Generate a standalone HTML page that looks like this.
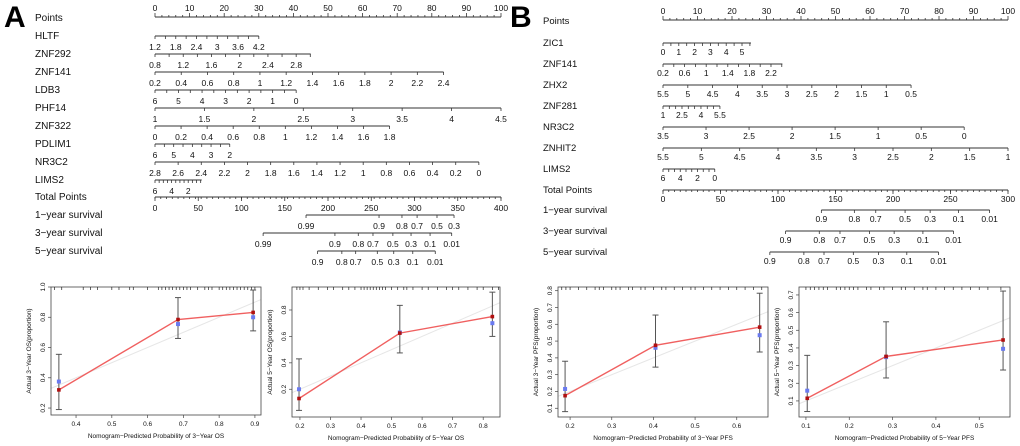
<!DOCTYPE html>
<html><head><meta charset="utf-8"><style>
html,body{margin:0;padding:0;background:#fff;}
svg{display:block;font-family:"Liberation Sans",Arial,sans-serif;}
</style></head><body>
<svg id="fig" width="1020" height="446" viewBox="0 0 1020 446" xmlns="http://www.w3.org/2000/svg">
<text x="4" y="27" font-size="30" font-weight="bold">A</text>
<text x="510" y="27" font-size="30" font-weight="bold">B</text>
</svg>
<script>
const aNames = ["HLTF","ZNF292","ZNF141","LDB3","PHF14","ZNF322","PDLIM1","NR3C2","LIMS2"];
const aLabels = [
 ["1.2","1.8","2.4","3","3.6","4.2"],
 ["0.8","1.2","1.6","2","2.4","2.8"],
 ["0.2","0.4","0.6","0.8","1","1.2","1.4","1.6","1.8","2","2.2","2.4"],
 ["6","5","4","3","2","1","0"],
 ["1","1.5","2","2.5","3","3.5","4","4.5"],
 ["0","0.2","0.4","0.6","0.8","1","1.2","1.4","1.6","1.8"],
 ["6","5","4","3","2"],
 ["2.8","2.6","2.4","2.2","2","1.8","1.6","1.4","1.2","1","0.8","0.6","0.4","0.2","0"],
 ["6","4","2"]];
const aLastPts = [30,40.8,83.4,40.8,100,67.8,21.6,93.6,9.6];
const aEndPts  = [30,45,83.4,40.8,100,67.8,21.6,93.6,13.5];
const aMinor   = [2,2,1,2,1,1,2,1,4];
const aTotalTicks = [0,50,100,150,200,250,300,350,400];
const aSurvNames = ["1\u2212year survival","3\u2212year survival","5\u2212year survival"];
const aSurvLabels = [["0.99","0.9","0.8","0.7","0.5","0.3"],
 ["0.99","0.9","0.8","0.7","0.5","0.3","0.1","0.01"],
 ["0.9","0.8","0.7","0.5","0.3","0.1","0.01"]];
const aSurvPts = [[174.6,259,285.5,303,326,345.7],
 [125,208,235,252,275,296,318,343],
 [188,216,232,257,276,298,324]];

const bNames = ["ZIC1","ZNF141","ZHX2","ZNF281","NR3C2","ZNHIT2","LIMS2"];
const bLabels = [
 ["0","1","2","3","4","5"],
 ["0.2","0.6","1","1.4","1.8","2.2"],
 ["5.5","5","4.5","4","3.5","3","2.5","2","1.5","1","0.5"],
 ["1","2.5","4","5.5"],
 ["3.5","3","2.5","2","1.5","1","0.5","0"],
 ["5.5","5","4.5","4","3.5","3","2.5","2","1.5","1"],
 ["6","4","2","0"]];
const bLastPts = [22.9,31.3,71.9,16.5,87.3,100,15];
const bEndPts  = [25.5,34.6,71.9,16.5,87.3,100,15];
const bMinor   = [2,2,1,3,1,1,3];
const bTotalTicks = [0,50,100,150,200,250,300];
const bSurvNames = ["1\u2212year survival","3\u2212year survival","5\u2212year survival"];
const bSurvLabels = [["0.9","0.8","0.7","0.5","0.3","0.1","0.01"],
 ["0.9","0.8","0.7","0.5","0.3","0.1","0.01"],
 ["0.9","0.8","0.7","0.5","0.3","0.1","0.01"]];
const bSurvPts = [[137.7,166.4,185,210.5,232.3,257,284],
 [106.6,135.9,153.9,179.5,201,226,252.6],
 [92.9,122.5,140,165.5,187.3,212,239.6]];
const pointTicks = [0,10,20,30,40,50,60,70,80,90,100];

const cal1Pred = [0.352,0.685,0.895];
const cal1Obs  = [0.32,0.785,0.832];
const cal1Km   = [0.375,0.755,0.80];
const cal1Lo   = [0.19,0.66,0.71];
const cal1Hi   = [0.555,0.93,0.98];
const cal1XTicks = [0.4,0.5,0.6,0.7,0.8,0.9];
const cal1YTicks = [0.2,0.4,0.6,0.8,1.0];
const rug1 = [0.34,0.36,0.42,0.44,0.46,0.5,0.52,0.55,0.56,0.6,0.63,0.64,0.65,0.66,0.67,0.68,0.69,0.7,0.71,0.72,0.74,0.76,0.77,0.78,0.8,0.81,0.82,0.83,0.84,0.85,0.86,0.87,0.88,0.89,0.9];

const cal2Pred = [0.197,0.527,0.83];
const cal2Obs  = [0.13,0.625,0.75];
const cal2Km   = [0.2,0.63,0.70];
const cal2Lo   = [0.04,0.475,0.6];
const cal2Hi   = [0.43,0.835,0.935];
const cal2XTicks = [0.2,0.3,0.4,0.5,0.6,0.7,0.8];
const cal2YTicks = [0.2,0.4,0.6,0.8];
const rug2 = [0.19,0.2,0.21,0.23,0.26,0.29,0.31,0.34,0.36,0.38,0.4,0.41,0.42,0.43,0.44,0.45,0.46,0.47,0.48,0.5,0.52,0.54,0.55,0.57,0.6,0.62,0.65,0.68,0.7,0.72,0.75,0.78,0.8,0.83,0.85];

const cal3Pred = [0.188,0.405,0.655];
const cal3Obs  = [0.175,0.475,0.583];
const cal3Km   = [0.215,0.46,0.535];
const cal3Lo   = [0.08,0.345,0.435];
const cal3Hi   = [0.38,0.655,0.785];
const cal3XTicks = [0.2,0.3,0.4,0.5,0.6];
const cal3YTicks = [0.1,0.2,0.3,0.4,0.5,0.6,0.7,0.8];
const rug3 = [0.18,0.19,0.2,0.22,0.24,0.26,0.27,0.28,0.3,0.31,0.32,0.34,0.35,0.37,0.38,0.4,0.42,0.43,0.45,0.47,0.49,0.5,0.52,0.54,0.56,0.58,0.6,0.62,0.64,0.66];

const cal4Pred = [0.103,0.285,0.555];
const cal4Obs  = [0.115,0.352,0.445];
const cal4Km   = [0.158,0.348,0.395];
const cal4Lo   = [0.04,0.23,0.275];
const cal4Hi   = [0.358,0.548,0.722];
const cal4XTicks = [0.1,0.2,0.3,0.4,0.5];
const cal4YTicks = [0.1,0.2,0.3,0.4,0.5,0.6,0.7];
const rug4 = [0.1,0.11,0.12,0.13,0.14,0.15,0.17,0.18,0.19,0.2,0.21,0.22,0.24,0.25,0.27,0.28,0.3,0.32,0.33,0.35,0.37,0.38,0.4,0.42,0.44,0.46,0.48,0.5,0.52,0.55];

const svg = document.getElementById('fig');
const NS = "http://www.w3.org/2000/svg";
function mk(tag, attrs, parent){
  const e = document.createElementNS(NS, tag);
  for (const k in attrs) e.setAttribute(k, attrs[k]);
  (parent||svg).appendChild(e);
  return e;
}
function line(x1,y1,x2,y2,stroke,w,parent){
  return mk('line',{x1:x1,y1:y1,x2:x2,y2:y2,stroke:stroke,'stroke-width':w},parent);
}
function txt(x,y,s,size,anchor,parent){
  const t = mk('text',{x:x,y:y,'font-size':size,'text-anchor':anchor||'start',fill:'#111'},parent);
  t.textContent = s;
  return t;
}

function nomogram(cfg){
  const g = mk('g',{});
  
  
  const px = p => cfg.x0 + p*(cfg.x1-cfg.x0)/100;
  const tx = t => cfg.x0 + t*(cfg.x1-cfg.x0)/cfg.totalMax;
  const fs = cfg.fs, ls = cfg.ls;
  const pa = mk('g',{},g);
  
  
  txt(cfg.nameX, cfg.pointsY+4, "Points", fs, 'start', pa);
  line(px(0), cfg.pointsY, px(100), cfg.pointsY, '#333', 1, pa);
  for (let p=0; p<=100; p+=2){
    const major = p%10===0;
    line(px(p), cfg.pointsY, px(p), cfg.pointsY-(major?4:2), '#333', 0.8, pa);
  }
  pointTicks.forEach(p => txt(px(p), cfg.pointsY-6, String(p), ls, 'middle', pa));
  cfg.names.forEach((nm,i) => {
    const y = cfg.rowY[i];
    const vg = mk('g',{},g);
    
    
    txt(cfg.nameX, y+3, nm, fs, 'start', vg);
    line(px(0), y, px(cfg.endPts[i]), y, '#333', 1, vg);
    const labs = cfg.labels[i];
    const n = labs.length;
    const step = cfg.lastPts[i]/(n-1);
    const m = cfg.minor[i];
    const total = Math.floor(cfg.endPts[i]/(step/m)+1e-6);
    for (let k=0;k<=total;k++){
      const p = k*step/m;
      line(px(p), y, px(p), y+3, '#333', 0.8, vg);
    }
    labs.forEach((s,k) => txt(px(k*step), y+cfg.labOff, s, ls, 'middle', vg));
  });
  const tg = mk('g',{},g);
  
  
  txt(cfg.nameX, cfg.totalY+3, "Total Points", fs, 'start', tg);
  line(tx(0), cfg.totalY, tx(cfg.totalMax), cfg.totalY, '#333', 1, tg);
  for (let t=0; t<=cfg.totalMax+1e-6; t+=cfg.totalMax/60){
    line(tx(t), cfg.totalY, tx(t), cfg.totalY+2, '#333', 0.8, tg);
  }
  cfg.totalTicks.forEach(t => {
    line(tx(t), cfg.totalY, tx(t), cfg.totalY+4, '#333', 0.8, tg);
    txt(tx(t), cfg.totalY+cfg.labOff, String(t), ls, 'middle', tg);
  });
  cfg.survNames.forEach((nm,i) => {
    const y = cfg.survY[i];
    const sg = mk('g',{},g);
    
    
    txt(cfg.nameX, y+3, nm, fs, 'start', sg);
    const pts = cfg.survPts[i];
    line(tx(pts[0]), y, tx(pts[pts.length-1]), y, '#333', 1, sg);
    pts.forEach((t,k) => {
      line(tx(t), y, tx(t), y+3, '#333', 0.8, sg);
      txt(tx(t), y+cfg.labOff, cfg.survLabels[i][k], ls, 'middle', sg);
    });
  });
}

nomogram({id:'nomogram-a', x0:155, x1:501, totalMax:400, nameX:35, pointsY:17, fs:10, ls:8.5, labOff:14,
  names:aNames, labels:aLabels, lastPts:aLastPts, endPts:aEndPts, minor:aMinor,
  rowY:[36,54,72,90,108,126,144,162,180], totalY:197, totalTicks:aTotalTicks,
  survNames:aSurvNames, survLabels:aSurvLabels, survPts:aSurvPts, survY:[215,233,251]});
nomogram({id:'nomogram-b', x0:663, x1:1008, totalMax:300, nameX:543, pointsY:20, fs:9.5, ls:8.5, labOff:12,
  names:bNames, labels:bLabels, lastPts:bLastPts, endPts:bEndPts, minor:bMinor,
  rowY:[43,64,85,106,127,148,169], totalY:190, totalTicks:bTotalTicks,
  survNames:bSurvNames, survLabels:bSurvLabels, survPts:bSurvPts, survY:[210,231,252]});

function calib(c){
  const g = mk('g',{});
  
  
  const sx = v => c.L + (v-c.xd[0])/(c.xd[1]-c.xd[0])*(c.R-c.L);
  const sy = v => c.B - (v-c.yd[0])/(c.yd[1]-c.yd[0])*(c.B-c.T);
  const lo = Math.max(c.xd[0], c.yd[0]), hi = Math.min(c.xd[1], c.yd[1]);
  const il = line(sx(lo), sy(lo), sx(hi), sy(hi), '#e6e6e6', 1, g);
  
  
  const fr = mk('rect',{x:c.L,y:c.T,width:c.R-c.L,height:c.B-c.T,fill:'none',stroke:'#444','stroke-width':0.8},g);
  
  
  c.rug.forEach(v => {
    const r = line(sx(v), c.T, sx(v), c.T+3, '#222', 0.7, g);
    
    
  });
  c.xt.forEach(v => {
    line(sx(v), c.B, sx(v), c.B+3, '#444', 0.7, g);
    const t = txt(sx(v), c.B+11, String(v), 6.5, 'middle', g);
    
    
  });
  c.yt.forEach(v => {
    line(c.L-3, sy(v), c.L, sy(v), '#444', 0.7, g);
    const t = txt(c.L-6, sy(v), v.toFixed(1), 6.5, 'middle', g);
    t.setAttribute('transform','rotate(-90 '+(c.L-6)+' '+sy(v)+')');
    
    
  });
  const xtitle = txt((c.L+c.R)/2, c.B+23, c.xlab, 6.5, 'middle', g);
  
  
  const yx = c.L-20, yy = (c.T+c.B)/2;
  const ytitle = txt(yx, yy, c.ylab, 6.5, 'middle', g);
  ytitle.setAttribute('transform','rotate(-90 '+yx+' '+yy+')');
  
  
  c.pred.forEach((p,i) => {
    const x = sx(p);
    const e = mk('g',{},g);
    
    
    line(x, sy(c.lo[i]), x, sy(c.hi[i]), '#555', 1, e);
    line(x-3, sy(c.lo[i]), x+3, sy(c.lo[i]), '#555', 1, e);
    line(x-3, sy(c.hi[i]), x+3, sy(c.hi[i]), '#555', 1, e);
  });
  const pl = mk('polyline',{points:c.pred.map((p,i)=>sx(p)+','+sy(c.obs[i])).join(' '),fill:'none',stroke:'#f06060','stroke-width':1.4},g);
  
  
  c.pred.forEach((p,i) => {
    const b = mk('rect',{x:sx(p)-2,y:sy(c.km[i])-2,width:4,height:4,fill:'#6a7af0'},g);
    
    
    const r = mk('rect',{x:sx(p)-1.8,y:sy(c.obs[i])-1.8,width:3.6,height:3.6,fill:'#b01010'},g);
    
    
  });
}

calib({id:'calibration-3-year-os', L:51,R:261,T:287,B:415, xd:[0.330,0.917], yd:[0.154,1.0],
  pred:cal1Pred, obs:cal1Obs, km:cal1Km, lo:cal1Lo, hi:cal1Hi, xt:cal1XTicks, yt:cal1YTicks, rug:rug1,
  xlab:"Nomogram\u2212Predicted Probability of 3\u2212Year OS", ylab:"Actual 3\u2212Year OS(proportion)"});
calib({id:'calibration-5-year-os', L:292,R:500,T:287,B:417, xd:[0.174,0.855], yd:[-0.01,0.974],
  pred:cal2Pred, obs:cal2Obs, km:cal2Km, lo:cal2Lo, hi:cal2Hi, xt:cal2XTicks, yt:cal2YTicks, rug:rug2,
  xlab:"Nomogram\u2212Predicted Probability of 5\u2212Year OS", ylab:"Actual 5\u2212Year OS(proportion)"});
calib({id:'calibration-3-year-pfs', L:558,R:768,T:287,B:417, xd:[0.171,0.675], yd:[0.048,0.822],
  pred:cal3Pred, obs:cal3Obs, km:cal3Km, lo:cal3Lo, hi:cal3Hi, xt:cal3XTicks, yt:cal3YTicks, rug:rug3,
  xlab:"Nomogram\u2212Predicted Probability of 3\u2212Year PFS", ylab:"Actual 3\u2212Year PFS(proportion)"});
calib({id:'calibration-5-year-pfs', L:799,R:1010,T:287,B:417, xd:[0.084,0.571], yd:[0.009,0.745],
  pred:cal4Pred, obs:cal4Obs, km:cal4Km, lo:cal4Lo, hi:cal4Hi, xt:cal4XTicks, yt:cal4YTicks, rug:rug4,
  xlab:"Nomogram\u2212Predicted Probability of 5\u2212Year PFS", ylab:"Actual 5\u2212Year PFS(proportion)"});
</script>
</body></html>
